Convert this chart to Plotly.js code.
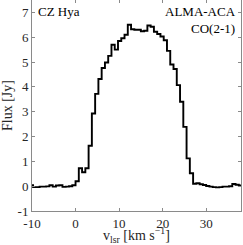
<!DOCTYPE html>
<html>
<head>
<meta charset="utf-8">
<script src="https://cdn.plot.ly/plotly-3.0.1.min.js"></script>
<style>html,body{margin:0;padding:0;background:#fff;}#chart{width:243px;height:245px;}</style>
</head>
<body>
<div id="chart"></div>
<script>
// channel centre velocities (km/s)
const velocity = [
  -10.875, -10.125, -9.375, -8.625, -7.875, -7.125, -6.375, -5.625, -4.875, -4.125,
  -3.375, -2.625, -1.875, -1.125, -0.375, 0.375, 1.125, 1.875, 2.625, 3.375,
  4.125, 4.875, 5.625, 6.375, 7.125, 7.875, 8.625, 9.375, 10.125, 10.875,
  11.625, 12.375, 13.125, 13.875, 14.625, 15.375, 16.125, 16.875, 17.625, 18.375,
  19.125, 19.875, 20.625, 21.375, 22.125, 22.875, 23.625, 24.375, 25.125, 25.875,
  26.625, 27.375, 28.125, 28.875, 29.625, 30.375, 31.125, 31.875, 32.625, 33.375,
  34.125, 34.875, 35.625, 36.375, 37.125, 37.875, 38.625
];
// flux density (Jy)
const flux = [
  0.05, 0.04, -0.04, -0.04, -0.02, -0.02, -0.01, 0.04, -0.02, 0.03,
  0.04, -0.03, -0.02, 0.00, 0.04, 0.20, 0.72, 0.56, 0.72, 1.63,
  2.93, 3.72, 4.32, 4.76, 4.98, 5.25, 5.70, 5.50, 5.85, 5.96,
  6.10, 6.50, 6.32, 6.30, 6.30, 6.24, 6.26, 6.47, 6.42, 6.22,
  6.13, 6.03, 5.88, 5.45, 4.90, 4.72, 4.07, 3.40, 2.39, 1.12,
  0.52, 0.10, 0.12, 0.08, 0.05, 0.01, -0.02, -0.04, -0.05, -0.04,
  -0.02, -0.02, 0.00, 0.09, 0.06, 0.03, 0.03
];
const xTickVals = [-10, 0, 10, 20, 30];
const xTickLabels = ["-10", "0", "10", "20", "30"];
const yTickVals = [-1, 0, 1, 2, 3, 4, 5, 6, 7];
const yTickLabels = ["-1", "0", "1", "2", "3", "4", "5", "6", "7"];

const serif = "Liberation Serif, DejaVu Serif, serif";

const trace = {
  x: velocity, y: flux, type: "scatter", mode: "lines",
  line: {shape: "hvh", color: "#000", width: 1.9},
  hoverinfo: "skip"
};

const axisCommon = {
  showgrid: false, zeroline: false, showline: true, mirror: "ticks",
  linecolor: "#8a8a8a", linewidth: 1,
  ticks: "inside", ticklen: 3, tickcolor: "#8a8a8a", tickwidth: 1,
  tickfont: {family: serif, size: 13, color: "#262626"},
  tickmode: "array"
};

const layout = {
  width: 243, height: 245,
  margin: {l: 32, r: 2, t: 0, b: 34, pad: 0},
  paper_bgcolor: "#fff", plot_bgcolor: "#fff",
  showlegend: false,
  font: {family: serif, color: "#262626"},
  xaxis: Object.assign({}, axisCommon, {
    range: [-10, 38], tickvals: xTickVals, ticktext: xTickLabels
  }),
  yaxis: Object.assign({}, axisCommon, {
    range: [-1, 7.5], tickvals: yTickVals, ticktext: yTickLabels,
    title: {text: "Flux [Jy]", font: {family: serif, size: 14, color: "#262626"}, standoff: 3}
  }),
  annotations: [
    {text: "v<sub>lsr</sub> [km s<sup>−1</sup>]", xref: "paper", yref: "paper", x: 0.5, y: -0.115,
     xanchor: "center", yanchor: "middle", showarrow: false,
     font: {family: serif, size: 14, color: "#262626"}},
    {text: "CZ Hya", xref: "paper", yref: "paper", x: 0.02, y: 0.99, xanchor: "left", yanchor: "top",
     showarrow: false, font: {family: serif, size: 13, color: "#000"}},
    {text: "ALMA-ACA<br>CO(2-1)", xref: "paper", yref: "paper", x: 0.985, y: 0.99, xanchor: "right", yanchor: "top",
     align: "right", showarrow: false, font: {family: serif, size: 13, color: "#000"}}
  ]
};

Plotly.newPlot("chart", [trace], layout, {staticPlot: true, displayModeBar: false});
</script>
</body>
</html>
